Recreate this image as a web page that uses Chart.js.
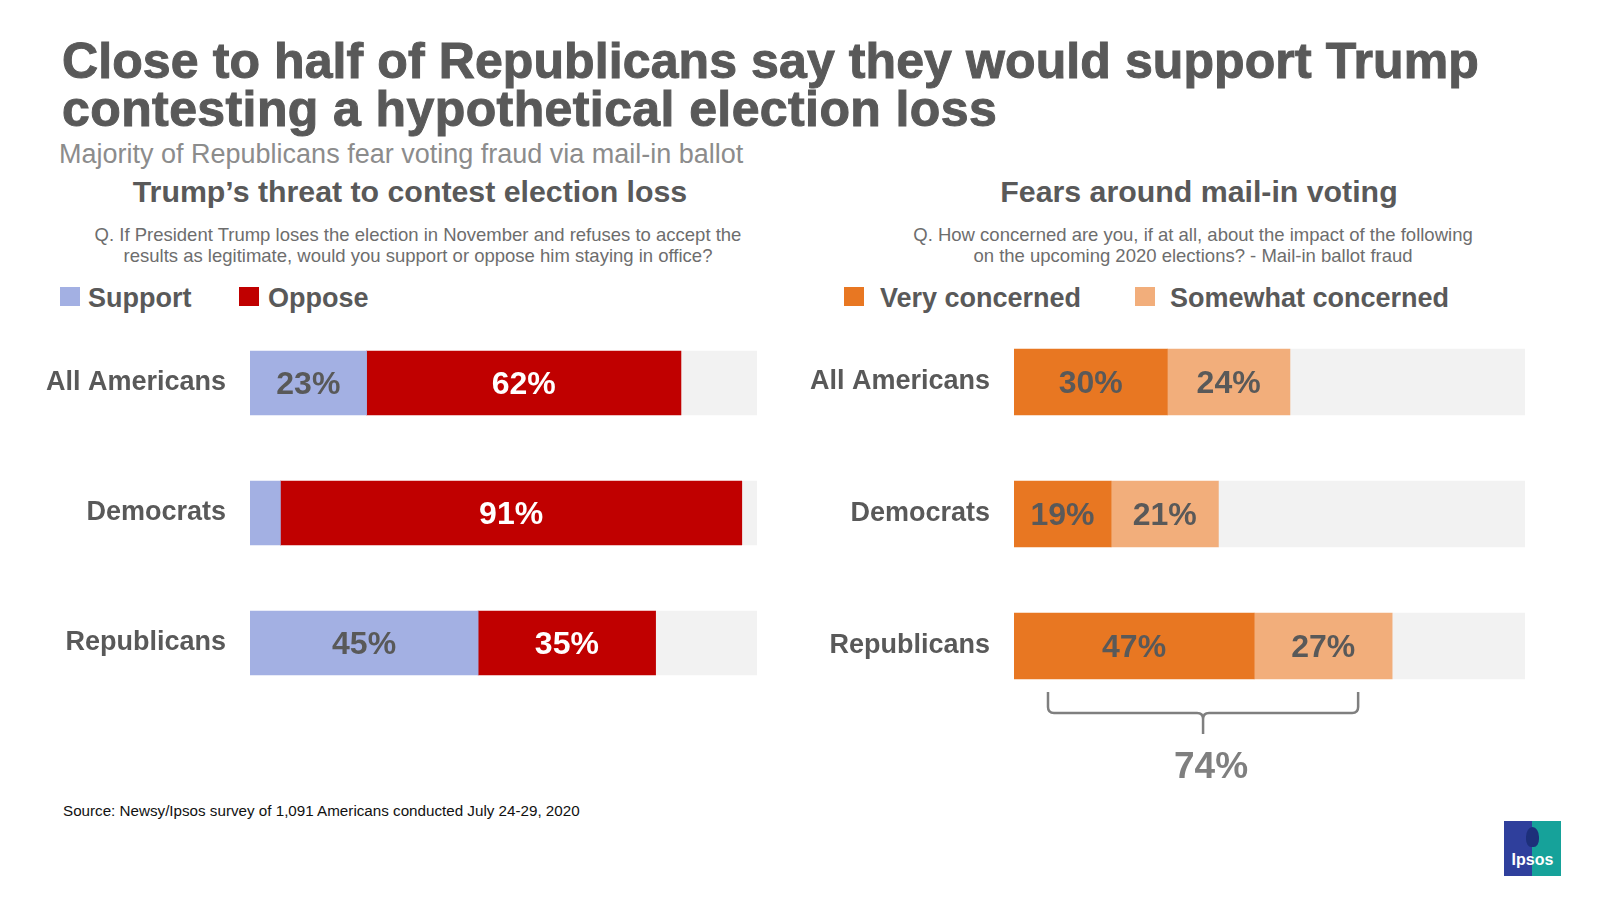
<!DOCTYPE html>
<html>
<head>
<meta charset="utf-8">
<script src="https://cdn.jsdelivr.net/npm/chart.js@4.4.0/dist/chart.umd.min.js"></script>
<style>
  html, body { margin:0; padding:0; background:#fff; }
  body { width:1602px; height:897px; position:relative; overflow:hidden; font-family:"Liberation Sans", Arial, sans-serif; }
  .t { position:absolute; white-space:nowrap; }
  .sq { position:absolute; width:20px; height:19px; }
  canvas { position:absolute; }
</style>
</head>
<body>
<script>
// ---------- data ----------
const categories = ['All Americans', 'Democrats', 'Republicans'];
const supportValues = [23, 6, 45];
const opposeValues = [62, 91, 35];
const veryConcernedValues = [30, 19, 47];
const somewhatConcernedValues = [24, 21, 27];
const leftLegend = ['Support', 'Oppose'];
const rightLegend = ['Very concerned', 'Somewhat concerned'];

const GRAY = '#595959';
const FONT = '"Liberation Sans", Arial, sans-serif';

function addText(txt, opts) {
  const d = document.createElement('div');
  d.className = 't';
  d.textContent = txt;
  const F = opts.size;
  d.style.fontSize = F + 'px';
  d.style.lineHeight = F + 'px';
  d.style.fontWeight = opts.bold ? 'bold' : 'normal';
  d.style.color = opts.color || GRAY;
  d.style.top = (opts.baseline - 0.8465 * F) + 'px';
  if (opts.stroke) { d.style.webkitTextStroke = opts.stroke + ' ' + (opts.color || GRAY); }
  if (opts.spacing) { d.style.letterSpacing = opts.spacing; }
  if (opts.center !== undefined) {
    d.style.left = opts.center + 'px';
    d.style.transform = 'translateX(-50%)';
  } else {
    d.style.left = opts.left + 'px';
  }
  document.body.appendChild(d);
  return d;
}
function addSquare(left, top, color) {
  const s = document.createElement('div');
  s.className = 'sq';
  s.style.left = left + 'px'; s.style.top = top + 'px'; s.style.background = color;
  document.body.appendChild(s);
}

// ---------- texts ----------
addText('Close to half of Republicans say they would support Trump', {size:50, bold:true, baseline:78.5, left:62, stroke:'1px', spacing:'0.1px'});
addText('contesting a hypothetical election loss', {size:50, bold:true, baseline:126.5, left:62, stroke:'1px', spacing:'0.4px'});
addText('Majority of Republicans fear voting fraud via mail-in ballot', {size:27, baseline:164, left:59, color:'#8c8c8c'});
addText('Trump\u2019s threat to contest election loss', {size:30.3, bold:true, baseline:203, center:410});
addText('Fears around mail-in voting', {size:30.3, bold:true, baseline:203, center:1199});
addText('Q. If President Trump loses the election in November and refuses to accept the', {size:18.5, baseline:242, center:418, color:'#6d6d6d'});
addText('results as legitimate, would you support or oppose him staying in office?', {size:18.5, baseline:263, center:418, color:'#6d6d6d'});
addText('Q. How concerned are you, if at all, about the impact of the following', {size:18.5, baseline:242, center:1193, color:'#6d6d6d'});
addText('on the upcoming 2020 elections? - Mail-in ballot fraud', {size:18.5, baseline:263, center:1193, color:'#6d6d6d'});

const C_SUPPORT = '#a3b0e3';
const C_OPPOSE = '#c00000';
const C_VERY = '#e87722';
const C_SOME = '#f2ae7b';
const C_REST = '#f2f2f2';

addSquare(60, 287, C_SUPPORT);
addText(leftLegend[0], {size:27, bold:true, baseline:307.5, left:88});
addSquare(239, 287, C_OPPOSE);
addText(leftLegend[1], {size:27, bold:true, baseline:307.5, left:268});
addSquare(844, 287, C_VERY);
addText(rightLegend[0], {size:27, bold:true, baseline:307.5, left:880});
addSquare(1135, 287, C_SOME);
addText(rightLegend[1], {size:27, bold:true, baseline:307.5, left:1170});

addText('Source: Newsy/Ipsos survey of 1,091 Americans conducted July 24-29, 2020', {size:15.2, baseline:815.5, left:63, color:'#111'});

// Ipsos logo
(function(){
  const l = document.createElement('div');
  l.style.cssText = 'position:absolute;left:1504px;top:821px;width:57px;height:55px;background:linear-gradient(90deg,#2f3f9c 0%,#2f3f9c 50%,#16a29a 50%,#16a29a 100%);';
  const head = document.createElement('div');
  head.style.cssText = 'position:absolute;left:22px;top:6px;width:13px;height:20px;border-radius:50% 50% 40% 40%;background:#1d2f7a;';
  l.appendChild(head);
  const tx = document.createElement('div');
  tx.textContent = 'Ipsos';
  tx.style.cssText = 'position:absolute;left:0;width:57px;top:30px;text-align:center;color:#fff;font:bold 16px ' + FONT + ';';
  l.appendChild(tx);
  document.body.appendChild(l);
})();

// ---------- charts ----------
function makeCanvas(left, top, w, h) {
  const c = document.createElement('canvas');
  c.width = w; c.height = h;
  c.style.left = left + 'px'; c.style.top = top + 'px';
  c.style.width = w + 'px'; c.style.height = h + 'px';
  document.body.appendChild(c);
  return c;
}

const labelPlugin = {
  id: 'segLabels',
  afterDatasetsDraw(chart) {
    const ctx = chart.ctx;
    ctx.save();
    ctx.font = 'bold 32px ' + FONT;
    ctx.textAlign = 'center';
    ctx.textBaseline = 'middle';
    chart.data.datasets.forEach((ds, di) => {
      if (!ds.labelColor) return;
      const meta = chart.getDatasetMeta(di);
      meta.data.forEach((bar, i) => {
        const v = ds.data[i];
        if (v < 10) return;
        const p = bar.getProps(['x', 'base', 'y'], true);
        ctx.fillStyle = ds.labelColor;
        ctx.fillText(v + '%', (p.x + p.base) / 2, p.y + 2);
      });
    });
    ctx.restore();
  }
};

function commonOptions(yWidth, padRight, padBottom) {
  return {
    indexAxis: 'y',
    responsive: false,
    animation: false,
    devicePixelRatio: 1,
    layout: { padding: { left: 0, right: padRight, top: 0, bottom: padBottom } },
    plugins: { legend: { display: false }, tooltip: { enabled: false } },
    scales: {
      x: { stacked: true, min: 0, max: 100, display: false },
      y: {
        stacked: true,
        grid: { display: false, drawTicks: false },
        border: { display: false },
        ticks: { color: GRAY, font: { family: FONT, size: 27, weight: 'bold', lineHeight: 1.1 }, padding: 24 },
        afterFit(scale) { scale.width = yWidth; scale.paddingTop = 0; scale.paddingBottom = 0; }
      }
    }
  };
}

// Left chart
const leftCanvas = makeCanvas(0, 318, 757, 390);
new Chart(leftCanvas, {
  type: 'bar',
  data: {
    labels: categories,
    datasets: [
      { label: leftLegend[0], data: supportValues, backgroundColor: C_SUPPORT, barThickness: 64, labelColor: GRAY },
      { label: leftLegend[1], data: opposeValues, backgroundColor: C_OPPOSE, barThickness: 64, labelColor: '#ffffff' },
      { label: 'rest', data: categories.map((c, i) => 100 - supportValues[i] - opposeValues[i]), backgroundColor: C_REST, barThickness: 64 }
    ]
  },
  options: commonOptions(250, 0, 0),
  plugins: [labelPlugin]
});

// Right chart with bracket
const bracketPlugin = {
  id: 'bracket',
  afterDraw(chart) {
    const i = 2; // Republicans
    const total = veryConcernedValues[i] + somewhatConcernedValues[i];
    const xs = chart.scales.x;
    const bar = chart.getDatasetMeta(1).data[i];
    const barBottom = bar.y + bar.height / 2;
    const x0 = xs.getPixelForValue(0) + 34;
    const x1 = xs.getPixelForValue(total) - 34;
    const cx = (x0 + x1) / 2;
    const top = barBottom + 13;
    const mid = barBottom + 34;
    const tip = barBottom + 55;
    const r = 6;
    const ctx = chart.ctx;
    ctx.save();
    ctx.strokeStyle = '#7f7f7f';
    ctx.lineWidth = 2.5;
    ctx.beginPath();
    ctx.moveTo(x0, top);
    ctx.lineTo(x0, mid - r);
    ctx.quadraticCurveTo(x0, mid, x0 + r, mid);
    ctx.lineTo(cx - r, mid);
    ctx.quadraticCurveTo(cx, mid, cx, mid + r);
    ctx.lineTo(cx, tip);
    ctx.moveTo(cx, mid + r);
    ctx.quadraticCurveTo(cx, mid, cx + r, mid);
    ctx.lineTo(x1 - r, mid);
    ctx.quadraticCurveTo(x1, mid, x1, mid - r);
    ctx.lineTo(x1, top);
    ctx.stroke();
    ctx.fillStyle = '#7f7f7f';
    ctx.font = 'bold 37px ' + FONT;
    ctx.textAlign = 'center';
    ctx.textBaseline = 'middle';
    ctx.fillText(total + '%', cx + 8, barBottom + 89);
    ctx.restore();
  }
};

const rightCanvas = makeCanvas(764, 316, 761, 500);
new Chart(rightCanvas, {
  type: 'bar',
  data: {
    labels: categories,
    datasets: [
      { label: rightLegend[0], data: veryConcernedValues, backgroundColor: C_VERY, barThickness: 66, labelColor: GRAY },
      { label: rightLegend[1], data: somewhatConcernedValues, backgroundColor: C_SOME, barThickness: 66, labelColor: GRAY },
      { label: 'rest', data: categories.map((c, i) => 100 - veryConcernedValues[i] - somewhatConcernedValues[i]), backgroundColor: C_REST, barThickness: 66 }
    ]
  },
  options: commonOptions(250, 0, 104),
  plugins: [labelPlugin, bracketPlugin]
});
</script>
</body>
</html>
